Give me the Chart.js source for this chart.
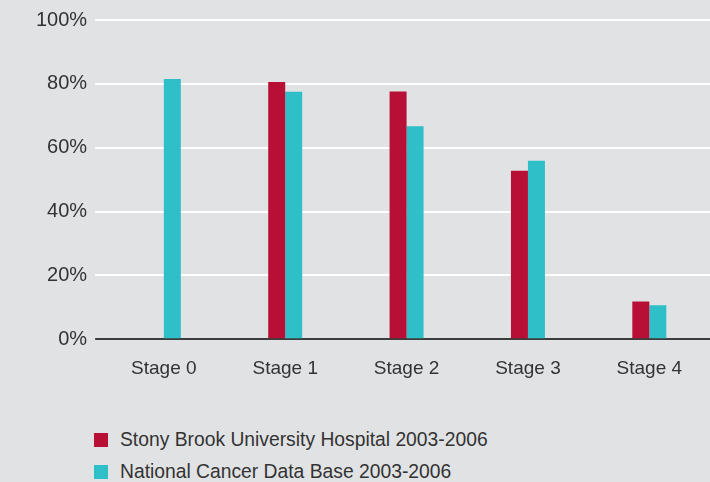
<!DOCTYPE html>
<html>
<head>
<meta charset="utf-8">
<script src="https://cdn.jsdelivr.net/npm/chart.js@4"></script>
<style>
  body { margin: 0; background: #e1e2e4; }
  #wrap { position: relative; width: 710px; height: 482px; background: #e1e2e4; }
  #chart { position: absolute; left: 0; top: 0; }
  .key { position: absolute; left: 94px; font: 19.3px "Liberation Sans", Arial, sans-serif; color: #333; line-height: 20px; white-space: nowrap; }
  .key span { display: inline-block; width: 14px; height: 14px; margin-right: 12px; vertical-align: -1px; }
</style>
</head>
<body>
<div id="wrap">
  <canvas id="chart" width="710" height="400"></canvas>
  <div class="key" id="key1" style="top: 430px;"><span></span></div>
  <div class="key" id="key2" style="top: 462px;"><span></span></div>
</div>
<script>
// stages along the x axis
const stages = ["Stage 0", "Stage 1", "Stage 2", "Stage 3", "Stage 4"];

// survival values (%)
const stonyBrook = [null, 80.6, 77.6, 52.8, 11.8];
const nationalBase = [81.5, 77.5, 66.7, 55.9, 10.6];

const seriesNames = ["Stony Brook University Hospital 2003-2006", "National Cancer Data Base 2003-2006"];
const seriesColors = ["#b80f36", "#2ebfc8"];

const yTicks = [0, 20, 40, 60, 80, 100];

function getColor(i) {
  return seriesColors[i];
}

// html legend, two rows like the original
[stonyBrook, nationalBase].forEach((s, i) => {
  const el = document.querySelector("#key" + (i + 1));
  el.querySelector("span").style.background = getColor(i);
  el.appendChild(document.createTextNode(seriesNames[i]));
});

const chartCanvas = document.querySelector("#chart");

new Chart(chartCanvas.getContext("2d"), {
  type: "bar",
  data: {
    labels: stages,
    datasets: [stonyBrook, nationalBase].map((values, i) => ({
      label: seriesNames[i],
      data: values,
      backgroundColor: getColor(i),
      borderWidth: 0,
      categoryPercentage: 0.28,
      barPercentage: 1,
    })),
  },
  options: {
    responsive: false,
    animation: false,
    layout: { padding: { top: 15, left: 28, right: 0, bottom: 2 } },
    plugins: {
      legend: { display: false },
      tooltip: { enabled: false },
    },
    scales: {
      x: {
        grid: { display: false, drawTicks: false },
        border: { display: false },
        ticks: {
          padding: 18,
          color: "#333",
          font: { family: "Liberation Sans", size: 19 },
        },
      },
      y: {
        min: 0,
        max: 100,
        afterBuildTicks: (axis) => {
          axis.ticks = yTicks.map((v) => ({ value: v }));
        },
        grid: {
          // zero line is dark, the rest are white
          color: (c) => (c.tick && c.tick.value === 0 ? "#3c3c3c" : "#ffffff"),
          lineWidth: 2,
          tickLength: 8,
        },
        border: { display: false },
        ticks: {
          padding: 8,
          color: "#333",
          font: { family: "Liberation Sans", size: 20 },
          callback: (v) => v + "%",
        },
      },
    },
  },
});
</script>
</body>
</html>
